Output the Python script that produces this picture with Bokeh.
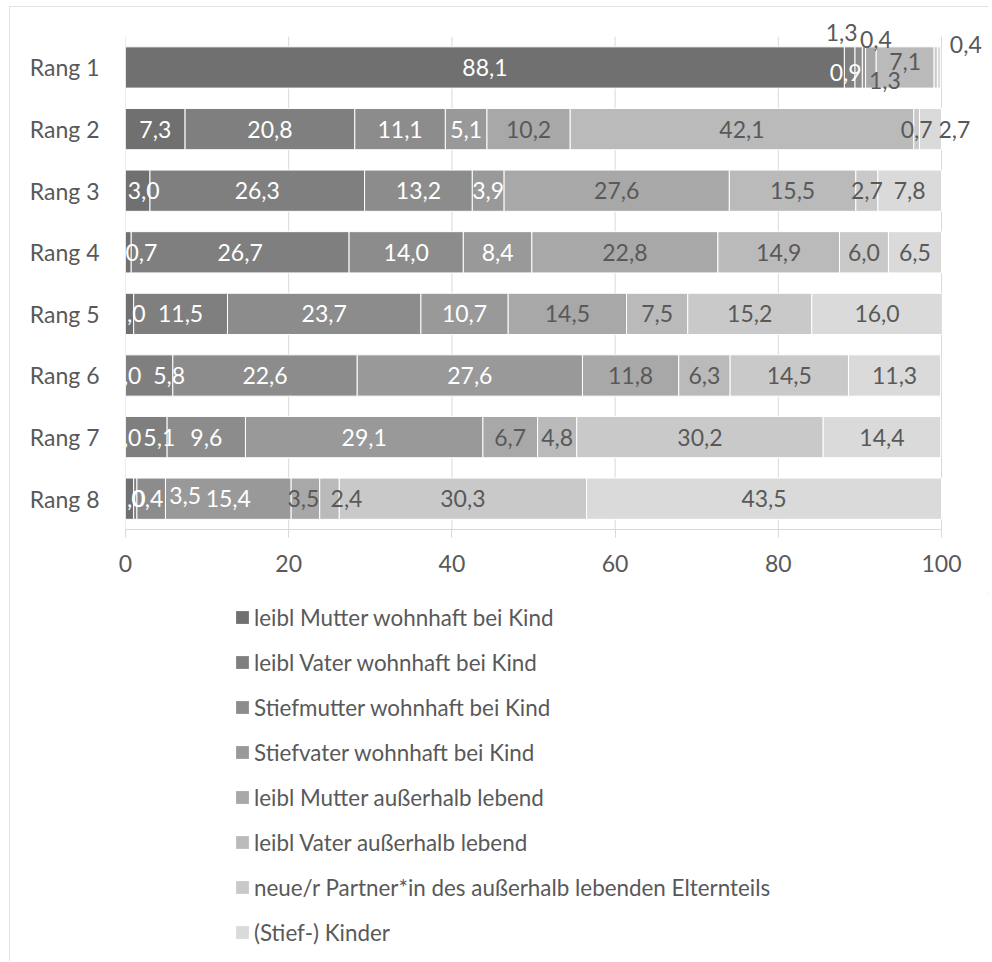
import numpy as np
from bokeh.plotting import figure
from bokeh.layouts import column
from bokeh.models import (ColumnDataSource, Range1d, Legend, LegendItem, LabelSet, FixedTicker)
from bokeh.core.properties import value
from bokeh.embed import file_html
from bokeh.resources import INLINE

# ---------------- data ----------------
ranks = ["Rang 1", "Rang 2", "Rang 3", "Rang 4", "Rang 5", "Rang 6", "Rang 7", "Rang 8"]
series_names = [
    "leibl Mutter wohnhaft bei Kind",
    "leibl Vater wohnhaft bei Kind",
    "Stiefmutter wohnhaft bei Kind",
    "Stiefvater wohnhaft bei Kind",
    "leibl Mutter außerhalb lebend",
    "leibl Vater außerhalb lebend",
    "neue/r Partner*in des außerhalb lebenden Elternteils",
    "(Stief-) Kinder",
]
mutter_bei_kind = [88.1, 7.3, 3.0, 0.7, 1.0, 0.0, 0.0, 1.0]
vater_bei_kind = [1.3, 20.8, 26.3, 26.7, 11.5, 5.8, 5.1, 0.4]
stiefmutter_bei_kind = [0.9, 11.1, 13.2, 14.0, 23.7, 22.6, 9.6, 3.5]
stiefvater_bei_kind = [0.4, 5.1, 3.9, 8.4, 10.7, 27.6, 29.1, 15.4]
mutter_aussen = [1.3, 10.2, 27.6, 22.8, 14.5, 11.8, 6.7, 3.5]
vater_aussen = [7.1, 42.1, 15.5, 14.9, 7.5, 6.3, 4.8, 2.4]
partner_aussen = [0.4, 0.7, 2.7, 6.0, 15.2, 14.5, 30.2, 30.3]
kinder = [0.4, 2.7, 7.8, 6.5, 16.0, 11.3, 14.4, 43.5]
x_ticks = [0, 20, 40, 60, 80, 100]

all_series = [mutter_bei_kind, vater_bei_kind, stiefmutter_bei_kind, stiefvater_bei_kind,
              mutter_aussen, vater_aussen, partner_aussen, kinder]

# ---------------- styles ----------------
colors = ["#707070", "#7f7f7f", "#8c8c8c", "#999999", "#a8a8a8", "#bababa", "#c9c9c9", "#dadada"]
text_dark = "#595959"
grid_color = "#d9d9d9"
label_colors = ["white"] * 4 + [text_dark] * 4
FONT = "Lato"
FS = "23px"
LEG_FS = "22.4px"

# manual label nudges (screen px: dx right, dy down) keyed by (row, series)
label_nudges = {
    (0, 1): (-8, -35), (0, 2): (-13, 5), (0, 3): (12, -28), (0, 4): (14, 13),
    (0, 5): (0, -6), (0, 6): (30, -23),
    (1, 7): (24, 0),
    (2, 0): (6, 0), (3, 0): (13, 0),
    (5, 1): (20, 0), (6, 1): (13, 0),
    (7, 1): (12, 0), (7, 2): (34, -3), (7, 4): (-2, 0), (7, 5): (17, 0),
}
label_color_override = {(0, 1): text_dark, (0, 3): text_dark, (0, 4): text_dark}
hidden_labels = {(0, 7)}

pos = list(range(len(ranks)))
keys = [f"s{i}" for i in range(8)]
data = {"pos": pos}
for k, s in zip(keys, all_series):
    data[k] = s
source = ColumnDataSource(data)

W = 979
p = figure(width=W, height=587, output_backend="svg", toolbar_location=None,
           y_range=Range1d(start=len(ranks) - 0.5, end=-0.86),
           x_range=Range1d(0, 105.27),
           min_border_left=116, min_border_right=4, min_border_top=8, min_border_bottom=64)
p.outline_line_color = None
p.xgrid.grid_line_color = None
p.ygrid.grid_line_color = None

# vertical gridlines spanning the category band only
p.segment(x0=x_ticks, x1=x_ticks, y0=[-0.5] * len(x_ticks), y1=[len(ranks) - 0.5] * len(x_ticks),
          line_color=grid_color, line_width=1, level="underlay")

renderers = p.hbar_stack(keys, y="pos", height=0.67, color=colors, source=source,
                         line_color="white", line_width=1)

# data labels
arr = np.array(all_series)
cum = np.cumsum(arr, axis=0)
lx, ly, lt, lc, ldx, ldy = [], [], [], [], [], []
for si in range(8):
    for ri in range(8):
        if (ri, si) in hidden_labels:
            continue
        v = arr[si, ri]
        center = cum[si, ri] - v / 2
        dx, dy = label_nudges.get((ri, si), (0, 0))
        lx.append(center)
        ly.append(pos[ri])
        lt.append(f"{v:.1f}".replace(".", ","))
        lc.append(label_color_override.get((ri, si), label_colors[si]))
        ldx.append(dx)
        ldy.append(-dy)
lab_src = ColumnDataSource(dict(x=lx, y=ly, t=lt, c=lc, dx=ldx, dy=ldy))
labels = LabelSet(x="x", y="y", text="t", source=lab_src, text_color="c",
                  x_offset="dx", y_offset="dy", text_align="center", text_baseline="middle",
                  text_font=value(FONT), text_font_size=FS)
p.add_layout(labels)

# axes
p.xaxis.ticker = FixedTicker(ticks=x_ticks)
p.xaxis.bounds = (0, 100)
p.xaxis.axis_line_color = grid_color
p.xaxis.major_tick_line_color = grid_color
p.xaxis.major_tick_out = 8
p.xaxis.major_tick_in = 0
p.xaxis.minor_tick_line_color = None
p.xaxis.major_label_standoff = 17
p.xaxis.major_label_text_font = FONT
p.xaxis.major_label_text_font_size = FS
p.xaxis.major_label_text_color = text_dark

p.yaxis.ticker = FixedTicker(ticks=pos)
p.yaxis.major_label_overrides = {i: r for i, r in zip(pos, ranks)}
p.yaxis.axis_line_color = None
p.yaxis.major_tick_line_color = None
p.yaxis.major_tick_out = 0
p.yaxis.major_tick_in = 0
p.yaxis.minor_tick_line_color = None
p.yaxis.major_label_standoff = 26
p.yaxis.major_label_text_font = FONT
p.yaxis.major_label_text_font_size = FS
p.yaxis.major_label_text_color = text_dark

# legend in its own panel below (its renderers use the same data, kept out of view)
LH = 955 - 587
lf = figure(width=W, height=LH, output_backend="svg", toolbar_location=None,
            x_axis_location=None, y_axis_location=None, min_border=0,
            x_range=Range1d(0, 100), y_range=Range1d(1000, 1001))
lf.outline_line_color = None
lf.xgrid.grid_line_color = None
lf.ygrid.grid_line_color = None
leg_renderers = lf.hbar_stack(keys, y="pos", height=0.67, color=colors, source=source,
                              line_color=None)
legend = Legend(items=[LegendItem(label=n, renderers=[r]) for n, r in zip(series_names, leg_renderers)],
                location=(109, 15), orientation="vertical",
                glyph_width=16, glyph_height=16, label_height=28, spacing=17,
                label_standoff=4, padding=0, margin=0,
                border_line_color=None, background_fill_alpha=0,
                label_text_font=FONT, label_text_font_size=LEG_FS, label_text_color=text_dark)
lf.add_layout(legend, "center")

layout = column(p, lf, spacing=0)
layout.styles = {"outline": "1px solid #d9d9d9", "outline-offset": "-1px",
                 "margin-left": "9px", "margin-top": "6px"}

open("out.html", "w").write(file_html(layout, INLINE))
